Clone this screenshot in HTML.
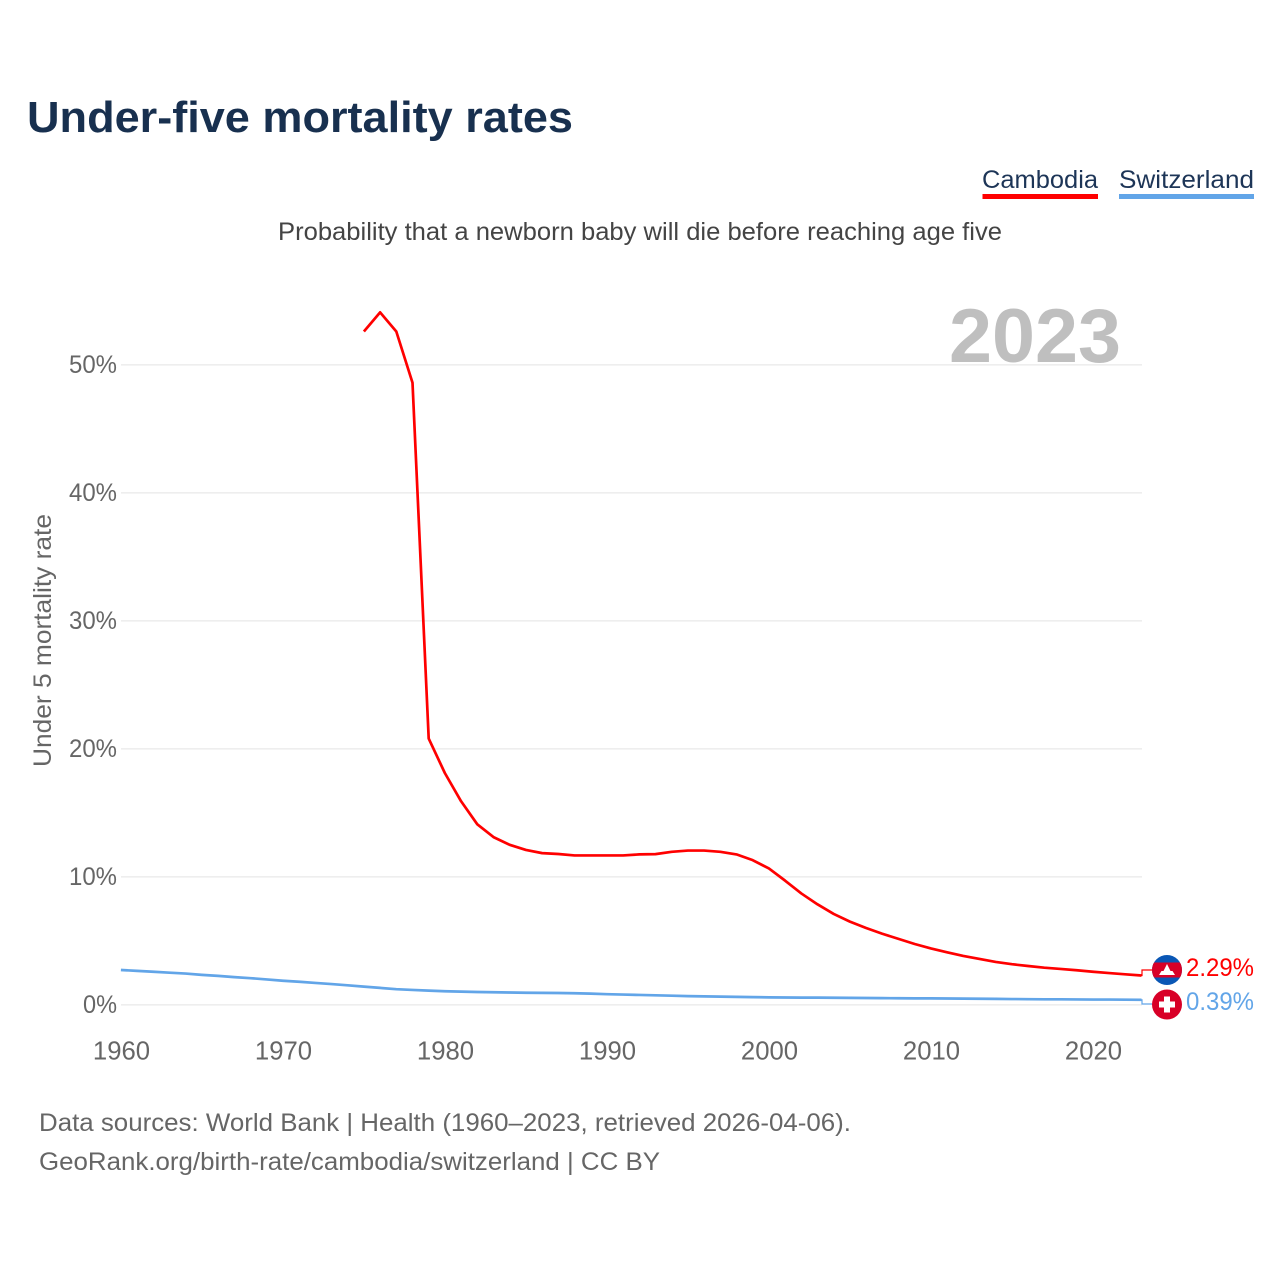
<!DOCTYPE html>
<html lang="en">
<head>
<meta charset="utf-8">
<title>Under-five mortality rates</title>
<style>
html,body{margin:0;padding:0;background:#fff}
svg{display:block}
text{font-family:"Liberation Sans",sans-serif}
</style>
</head>
<body>
<svg id="chart" width="1280" height="1280" viewBox="0 0 1280 1280" xmlns="http://www.w3.org/2000/svg">
  <defs>
    <clipPath id="flag-clip"><circle cx="1167" cy="970" r="15"/></clipPath>
  </defs>
  <text x="27" y="132" font-size="44" font-weight="700" fill="#18304f" textLength="546" lengthAdjust="spacingAndGlyphs">Under-five mortality rates</text>

  <a>
    <text x="982" y="188" font-size="25" fill="#1d3557" textLength="116" lengthAdjust="spacingAndGlyphs">Cambodia</text>
    <rect x="982.5" y="194" width="115.5" height="5" fill="#ff0000"/>
  </a>
  <a>
    <text x="1119" y="188" font-size="25" fill="#1d3557" textLength="135" lengthAdjust="spacingAndGlyphs">Switzerland</text>
    <rect x="1119" y="194" width="135" height="5" fill="#62a5e8"/>
  </a>

  <text x="278" y="240" font-size="25" fill="#444444" textLength="724" lengthAdjust="spacingAndGlyphs">Probability that a newborn baby will die before reaching age five</text>

  <g id="grid"></g>
  <g id="yticks"></g>
  <g id="xticks"></g>

  <text transform="translate(51,767) rotate(-90)" font-size="25" fill="#666666" textLength="253" lengthAdjust="spacingAndGlyphs">Under 5 mortality rate</text>

  <text x="949" y="362" font-size="76" font-weight="700" fill="#bfbfbf" textLength="172" lengthAdjust="spacingAndGlyphs">2023</text>

  <g id="series"></g>

  <g>
    <circle cx="1167" cy="970" r="15" fill="#0a57b5"/>
    <rect x="1152" y="962.5" width="30" height="15" fill="#d80027" clip-path="url(#flag-clip)"/>
    <path d="M1159 975l2.5-4h2l3.5-7 3.5 7h2l2.5 4z" fill="#ffffff"/>
  </g>
  <g>
    <circle cx="1167" cy="1004.5" r="15" fill="#d80027"/>
    <path d="M1164 996.5h6v5h5v6h-5v5h-6v-5h-5v-6h5z" fill="#ffffff"/>
  </g>

  <text x="1186" y="976" font-size="25" fill="#ff0000" textLength="68" lengthAdjust="spacingAndGlyphs">2.29%</text>
  <text x="1186" y="1010" font-size="25" fill="#62a5e8" textLength="68" lengthAdjust="spacingAndGlyphs">0.39%</text>

  <text x="39" y="1131" font-size="25" fill="#666666" textLength="812" lengthAdjust="spacingAndGlyphs">Data sources: World Bank | Health (1960–2023, retrieved 2026-04-06).</text>
  <text x="39" y="1170" font-size="25" fill="#666666" textLength="621" lengthAdjust="spacingAndGlyphs">GeoRank.org/birth-rate/cambodia/switzerland | CC BY</text>
</svg>
<script>
var cambodiaStartYear = 1975;
var cambodiaValues = [52.6,54.1,52.6,48.6,20.8,18.1,15.9,14.1,13.1,12.5,12.1,11.85,11.78,11.67,11.67,11.67,11.67,11.75,11.77,11.95,12.05,12.05,11.95,11.75,11.3,10.65,9.7,8.7,7.85,7.1,6.5,6.0,5.55,5.15,4.75,4.4,4.1,3.82,3.58,3.35,3.17,3.03,2.9,2.8,2.7,2.58,2.48,2.38,2.29];
var switzerlandStartYear = 1960;
var switzerlandValues = [2.72,2.65,2.58,2.51,2.44,2.34,2.26,2.16,2.08,1.98,1.88,1.8,1.71,1.62,1.52,1.42,1.32,1.22,1.16,1.11,1.06,1.03,1.0,0.98,0.96,0.94,0.93,0.92,0.9,0.87,0.83,0.8,0.77,0.74,0.71,0.68,0.66,0.64,0.62,0.6,0.58,0.57,0.56,0.56,0.55,0.54,0.53,0.52,0.51,0.5,0.5,0.49,0.48,0.47,0.46,0.45,0.44,0.43,0.43,0.42,0.41,0.41,0.4,0.39];
var yTickValues = [0,10,20,30,40,50];
var xTickYears = [1960,1970,1980,1990,2000,2010,2020];

var NS = 'http://www.w3.org/2000/svg';
function xScale(year){ return 120.9 + (year - 1960) * 16.2; }
function yScale(value){ return 1004.8 - value * 12.8; }
function make(tag, attrs, parent){
  var el = document.createElementNS(NS, tag);
  for (var k in attrs) el.setAttribute(k, attrs[k]);
  parent.appendChild(el);
  return el;
}

var grid = document.getElementById('grid');
var yticks = document.getElementById('yticks');
yTickValues.forEach(function(v){
  var line = make('line', {x1:121, x2:1142, y1:yScale(v), y2:yScale(v), stroke:'#eeeeee', 'stroke-width':1.6}, grid);
  
  
  var label = v + '%';
  var t = make('text', {x:117, y:yScale(v)+8, 'font-size':25, fill:'#666666', 'text-anchor':'end', textLength:(label.length - 1) * 14 + 20, lengthAdjust:'spacingAndGlyphs'}, yticks);
  
  
  t.textContent = label;
});

var xticks = document.getElementById('xticks');
xTickYears.forEach(function(y){
  var t = make('text', {x:xScale(y)+0.6, y:1059.5, 'font-size':25.7, fill:'#666666', 'text-anchor':'middle'}, xticks);
  
  
  t.textContent = y;
});

function pathFor(values, startYear){
  return values.map(function(v,i){
    return (i ? 'L' : 'M') + xScale(startYear + i).toFixed(2) + ' ' + yScale(v).toFixed(2);
  }).join('');
}
var series = document.getElementById('series');
var swissLine = make('path', {d:pathFor(switzerlandValues, switzerlandStartYear), fill:'none', stroke:'#62a5e8', 'stroke-width':2.7, 'stroke-linejoin':'round'}, series);


var cambodiaLine = make('path', {d:pathFor(cambodiaValues, cambodiaStartYear), fill:'none', stroke:'#ff0000', 'stroke-width':2.7, 'stroke-linejoin':'round'}, series);



var lastCambodia = yScale(cambodiaValues[cambodiaValues.length-1]);
var lastSwiss = yScale(switzerlandValues[switzerlandValues.length-1]);
var conn1 = make('path', {d:'M1141 '+lastCambodia+'H1142V970H1152', fill:'none', stroke:'#ff0000', 'stroke-width':1.2}, series);


var conn2 = make('path', {d:'M1141 '+lastSwiss+'H1142V1004H1152', fill:'none', stroke:'#62a5e8', 'stroke-width':1.2}, series);


</script>
</body>
</html>
